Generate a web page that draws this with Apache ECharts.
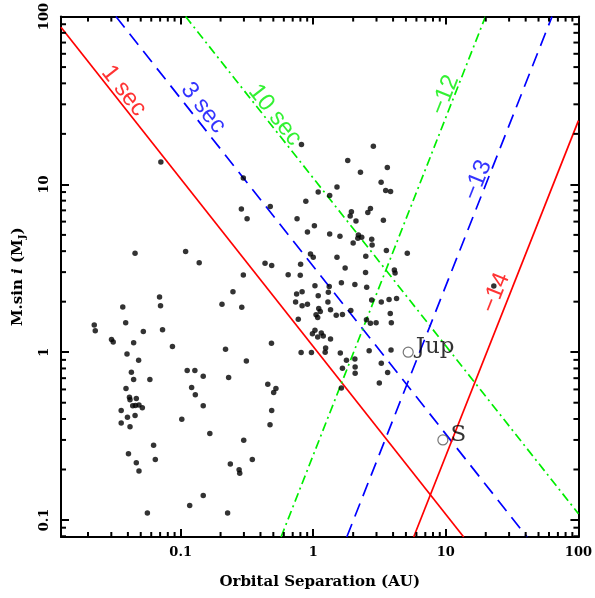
<!DOCTYPE html>
<html>
<head>
<meta charset="utf-8">
<script src="https://cdn.jsdelivr.net/npm/echarts@6/dist/echarts.min.js"></script>
<style>html,body{margin:0;padding:0;background:#fff}#c{width:595px;height:598px}</style>
</head>
<body>
<div id="c"></div>
<script>
// ---- axis ranges ----
const X_MIN = 0.01252, X_MAX = 100;
const Y_MIN = 0.0792, Y_MAX = 100;
const xTickLabels = ['0.1', '1', '10', '100'];
const yTickLabels = ['0.1', '1', '10', '100'];

// ---- planets (orbital separation AU, M sin i in M_J) ----
const separationAU = [
 0.0693,0.0705,0.0366,0.0223,0.0227,0.0385,0.0523,0.0730,0.0301,0.0310,
 0.0442,0.0867,0.0394,0.0482,0.0425,0.0442,0.0586,0.0387,0.0411,0.0415,
 0.0463,0.0435,0.0456,0.0485,0.0514,0.0356,0.0397,0.0453,0.0356,0.0415,
 0.102,0.0625,0.0404,0.0644,0.0463,0.0485,0.0561,0.112,0.128,0.121,
 0.129,0.148,0.148,0.166,0.117,0.148,0.205,0.218,0.230,0.313,
 0.299,0.289,0.237,0.276,0.279,0.347,0.226,0.454,0.484,0.486,
 0.472,0.503,0.523,0.297,0.474,0.287,0.317,0.109,0.138,0.433,
 0.486,0.297,0.248,0.0709,0.0453,0.755,0.647,0.798,0.749,0.736,
 0.771,0.815,2.84,1.82,3.62,2.27,3.25,1.51,1.09,3.52,
 3.83,1.33,0.879,2.70,2.58,1.94,1.90,2.10,3.38,1.02,
 0.904,1.33,1.59,2.19,2.32,2.17,2.76,2.00,2.78,3.56,
 5.12,0.953,1.00,1.51,2.49,0.803,1.74,2.48,4.09,4.14,
 1.63,2.06,1.03,1.32,2.53,0.824,1.09,1.30,0.904,0.824,
 1.29,3.26,3.73,4.25,2.76,1.10,1.13,1.35,1.05,1.08,
 1.49,1.66,1.92,3.81,2.52,2.70,2.98,3.88,1.03,0.986,
 1.15,1.08,1.19,1.35,1.24,0.810,0.969,1.23,1.60,2.64,
 3.86,1.78,2.06,2.07,1.66,3.64,2.07,3.15,1.63,3.26,
 23.0
];
const massMJ = [
 2.13,1.89,1.86,1.45,1.34,1.50,1.33,1.36,1.19,1.15,
 1.14,1.08,0.977,0.896,0.760,0.687,0.687,0.607,0.539,0.520,
 0.529,0.479,0.481,0.485,0.466,0.449,0.410,0.419,0.379,0.359,
 0.399,0.279,0.248,0.229,0.219,0.196,0.110,0.779,0.777,0.615,
 0.557,0.718,0.479,0.328,0.122,0.140,1.93,1.04,0.706,0.885,
 0.299,1.85,0.216,0.199,0.190,0.229,0.110,0.645,1.13,0.449,
 0.369,0.576,0.607,10.9,7.38,7.14,6.23,3.98,3.41,3.39,
 3.28,2.88,2.29,13.6,3.89,6.25,2.89,2.87,2.22,1.99,
 1.57,17.3,16.9,13.9,12.6,11.8,10.3,9.66,9.02,9.19,
 9.06,8.58,7.94,7.18,6.79,6.86,6.49,6.06,6.12,5.66,
 5.21,5.07,4.91,5.00,4.84,4.78,4.71,4.48,4.36,4.03,
 3.89,3.85,3.68,3.68,3.73,3.34,3.18,2.98,3.09,2.96,
 2.59,2.53,2.49,2.46,2.44,2.29,2.17,2.28,1.93,1.89,
 1.99,1.99,2.06,2.09,2.05,1.82,1.75,1.79,1.67,1.61,
 1.66,1.68,1.77,1.70,1.56,1.49,1.50,1.50,1.35,1.29,
 1.30,1.23,1.25,1.20,1.06,0.995,0.995,1.00,0.990,1.02,
 1.03,0.896,0.912,0.817,0.803,0.756,0.750,0.656,0.612,0.860,
 2.48
];

// ---- solar system planets ----
const solarNames = ['Jup', 'S'];
const solarSep = [5.2, 9.5];
const solarMass = [1.0, 0.3];

// ---- reference lines (endpoints in AU, M_J) ----
const sec1Line  = [[0.01252, 86.3], [13.64, 0.0792]];
const sec3Line  = [[0.0325, 100], [41.0, 0.0792]];
const sec10Line = [[0.109, 100], [100, 0.109]];
const m12Line   = [[0.572, 0.0792], [19.9, 100]];
const m13Line   = [[1.79, 0.0792], [63.2, 100]];
const m14Line   = [[5.72, 0.0792], [100, 24.0]];

// ---- line label texts and anchor values ----
const lineLabelTexts = ['1 sec', '3 sec', '10 sec', '\u221212', '\u221213', '\u221214'];
const lineLabelSep   = [0.0372, 0.148, 0.514, 9.86, 17.4, 23.8];
const lineLabelMass  = [36.1, 28.6, 25.9, 34.1, 10.6, 2.26];

// ---- styles ----
const RED = '#ff0000', BLUE = '#0000ff', GREEN = '#00ee00';
const labelColors = [RED, BLUE, GREEN, GREEN, BLUE, RED];
const labelRot = [-51.6, -51.6, -51.6, 68.4, 68.4, 68.4];
const AXFONT = 'DejaVu Serif';
const TICK = '#000000';

// minor tick values (2..9 x 10^k)
function minorValues(lo, hi) {
  const out = [];
  for (let k = -3; k <= 2; k++) for (let m = 2; m <= 9; m++) {
    const v = m * Math.pow(10, k);
    if (v > lo && v < hi) out.push(v);
  }
  return out;
}
const xMinor = minorValues(X_MIN, X_MAX);
const yMinor = minorValues(Y_MIN, Y_MAX);

function fmt(v) { return String(+Number(v).toPrecision(3)); }

const axLine = { show: true, lineStyle: { color: '#000', width: 2 } };
const mkTick = () => ({ show: true, inside: true, length: 8, lineStyle: { color: TICK, width: 2 } });
const axLabel = { fontFamily: AXFONT, fontWeight: 'bold', fontSize: 13, color: '#000', showMinLabel: false, formatter: fmt };

function lineSeries(data, color, type) {
  return { type: 'line', data: data, showSymbol: false, symbol: 'none', silent: true, z: 3,
    lineStyle: { color: color, width: 1.7, type: type }, clip: true };
}

const chart = echarts.init(document.getElementById('c'), null, { renderer: 'canvas' });
chart.setOption({
  animation: false,
  backgroundColor: '#fff',
  grid: { left: 61, right: 14.5, top: 16, bottom: 61 },
  xAxis: [
    { type: 'log', logBase: 10, min: X_MIN, max: X_MAX, position: 'bottom',
      axisLine: axLine, axisTick: mkTick(), splitLine: { show: false },
      axisLabel: Object.assign({ margin: 9 }, axLabel),
      name: 'Orbital Separation (AU)', nameLocation: 'middle', nameGap: 38,
      nameTextStyle: { fontFamily: AXFONT, fontWeight: 'bold', fontSize: 15, color: '#000' } },
    { type: 'log', logBase: 10, min: X_MIN, max: X_MAX, position: 'top',
      axisLine: axLine, axisTick: mkTick(), splitLine: { show: false }, axisLabel: { show: false } }
  ],
  yAxis: [
    { type: 'log', logBase: 10, min: Y_MIN, max: Y_MAX, position: 'left',
      axisLine: axLine, axisTick: mkTick(), splitLine: { show: false },
      axisLabel: Object.assign({ rotate: 90, margin: 10 }, axLabel),
      name: '{a|M.sin }{i|i}{a| (M}{s|J}{a|)}', nameLocation: 'middle', nameGap: 34, nameRotate: 90,
      nameTextStyle: { rich: {
        a: { fontFamily: AXFONT, fontWeight: 'bold', fontSize: 15, color: '#000' },
        i: { fontFamily: AXFONT, fontWeight: 'bold', fontStyle: 'italic', fontSize: 15, color: '#000' },
        s: { fontFamily: AXFONT, fontWeight: 'bold', fontSize: 10, color: '#000', padding: [8, 0, 0, 0] }
      } } },
    { type: 'log', logBase: 10, min: Y_MIN, max: Y_MAX, position: 'right',
      axisLine: axLine, axisTick: mkTick(), splitLine: { show: false }, axisLabel: { show: false } }
  ],
  series: [
    lineSeries(sec1Line, RED, 'solid'),
    lineSeries(sec3Line, BLUE, [14, 8]),
    lineSeries(sec10Line, GREEN, [9, 4, 2, 4]),
    lineSeries(m12Line, GREEN, [9, 4, 2, 4]),
    lineSeries(m13Line, BLUE, [14, 8]),
    lineSeries(m14Line, RED, 'solid'),
    { type: 'scatter', symbol: 'circle', symbolSize: 5.5, z: 4,
      itemStyle: { color: '#000' },
      data: separationAU.map((a, i) => [a, massMJ[i]]) },
    { type: 'scatter', symbol: 'circle', symbolSize: 10, z: 5,
      itemStyle: { color: '#fff', borderColor: '#555', borderWidth: 1.2 },
      data: solarSep.map((a, i) => ({ value: [a, solarMass[i]], name: solarNames[i] })),
      label: { show: true, position: 'right', distance: 2, offset: [0, -5],
        formatter: p => p.name, fontFamily: 'DejaVu Serif', fontSize: 23, color: '#000' } },
    { type: 'scatter', symbolSize: 0, z: 6, silent: true,
      data: lineLabelTexts.map((t, i) => ({
        value: [lineLabelSep[i], lineLabelMass[i]], name: t,
        label: { show: true, position: 'inside', formatter: t, color: labelColors[i], rotate: labelRot[i],
          fontFamily: 'Liberation Sans', fontSize: 24, align: 'center', verticalAlign: 'middle' }
      })) }
  ]
});

// ---- minor ticks on all four sides, placed through the axes' own scales ----
(function drawMinorTicks() {
  const px = v => chart.convertToPixel({ xAxisIndex: 0 }, v);
  const py = v => chart.convertToPixel({ yAxisIndex: 0 }, v);
  const L = px(X_MIN), R = px(X_MAX), T = py(Y_MAX), B = py(Y_MIN);
  const len = 5;
  const els = [];
  const mk = (x1, y1, x2, y2) => ({ type: 'line', z: 100, shape: { x1: x1, y1: y1, x2: x2, y2: y2 },
    style: { stroke: TICK, lineWidth: 2 } });
  xMinor.forEach(v => { const x = px(v); els.push(mk(x, B, x, B - len)); els.push(mk(x, T, x, T + len)); });
  yMinor.forEach(v => { const y = py(v); els.push(mk(L, y, L + len, y)); els.push(mk(R, y, R - len, y)); });
  chart.setOption({ graphic: { elements: els } });
})();
</script>
</body>
</html>
